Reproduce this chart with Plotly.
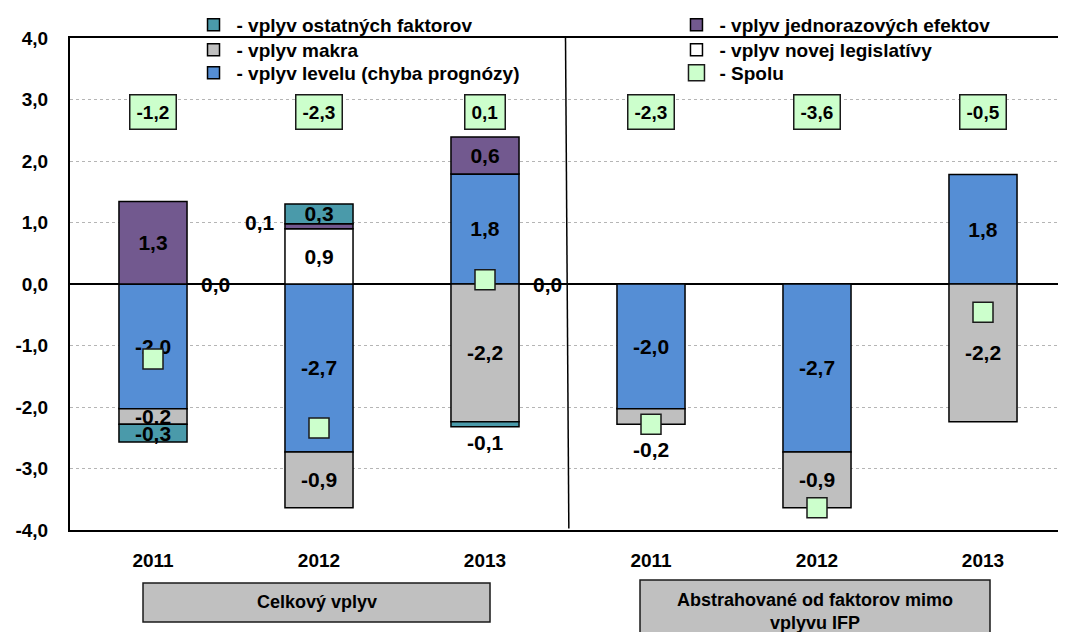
import plotly.graph_objects as go

# categories: two groups of three years
years = ["2011", "2012", "2013", "2011", "2012", "2013"]
groups = ["Celkový vplyv", "Abstrahované od faktorov mimo<br>vplyvu IFP"]

# series values (percent of GDP)
level = [-2.03, -2.73, 1.79, -2.03, -2.73, 1.78]
legislation = [0.0, 0.90, 0.0, None, None, None]
makro = [-0.25, -0.91, -2.24, -0.25, -0.91, -2.24]
jednoraz = [1.34, 0.08, 0.60, None, None, None]
ostatne = [-0.29, 0.32, -0.08, None, None, None]
spolu = [-1.22, -2.34, 0.07, -2.28, -3.64, -0.46]

y_ticks = [-4, -3, -2, -1, 0, 1, 2, 3, 4]
y_tick_labels = ["-4,0", "-3,0", "-2,0", "-1,0", "0,0", "1,0", "2,0", "3,0", "4,0"]

FONT = "Arial, Liberation Sans, sans-serif"

x = list(range(len(years)))


def fmt(v):
    if v is None:
        return ""
    return f"{v:.1f}".replace(".", ",")


label_font = dict(family=FONT, size=21, color="#000000", weight="bold")

series = [
    # name, values, color, legend, text positions
    ("- vplyv levelu (chyba prognózy)", level, "#558ed5", "legend3",
     ["inside"] * 6),
    ("- vplyv novej legislatívy", legislation, "#ffffff", "legend5",
     ["none", "inside", "none", "none", "none", "none"]),
    ("- vplyv makra", makro, "#bfbfbf", "legend2",
     ["inside", "inside", "inside", "below", "inside", "inside"]),
    ("- vplyv jednorazových efektov", jednoraz, "#72598f", "legend4",
     ["inside", "none", "inside", "none", "none", "none"]),
    ("- vplyv ostatných faktorov", ostatne, "#4a9aaa", "legend",
     ["inside", "inside", "below", "none", "none", "none"]),
]

fig = go.Figure()

for name, vals, color, leg, pos in series:
    fig.add_trace(go.Bar(
        x=x, y=vals, name=name, width=0.41,
        marker=dict(color=color, line=dict(color="#000000", width=1.5)),
        text=[fmt(v) if p == "inside" else "" for v, p in zip(vals, pos)],
        textposition="inside",
        insidetextanchor="middle",
        constraintext="none",
        textangle=0,
        textfont=label_font,
        legend=leg,
        hoverinfo="skip",
    ))

fig.add_trace(go.Scatter(
    x=x, y=spolu, name="- Spolu", mode="markers",
    marker=dict(symbol="square", size=20, color="#ccffcc",
                line=dict(color="#1a1a1a", width=1.5)),
    legend="legend6", hoverinfo="skip",
))

# labels placed under the bottom end of a negative stack
for name, vals, color, leg, pos in series:
    for i, p in enumerate(pos):
        if p != "below":
            continue
        bottom = sum(s[1][i] for s in series if s[1][i] is not None and s[1][i] < 0)
        fig.add_annotation(
            x=i, y=bottom, text=fmt(vals[i]), showarrow=False,
            yanchor="top", xanchor="center", yshift=-2 if i < 3 else -12,
            font=label_font,
        )

# total labels in green boxes
for i, v in enumerate(spolu):
    fig.add_annotation(
        x=i, y=2.8, text=fmt(v), showarrow=False,
        font=dict(family=FONT, size=19, color="#000000", weight="bold"),
        bgcolor="#ccffcc", bordercolor="#1a1a1a", borderwidth=1.5, borderpad=6,
    )

# zero-value labels of new legislation, shifted right of the bars
for i, v in enumerate(legislation):
    if v == 0.0:
        fig.add_annotation(
            x=i, y=0, text=fmt(v), showarrow=False, xshift=62,
            font=label_font,
        )

# small one-off label left of the 2012 bar
fig.add_annotation(
    x=1, y=legislation[1] + jednoraz[1] / 2, text=fmt(jednoraz[1]),
    showarrow=False, xshift=-59, yshift=4,
    font=label_font,
)

# divider between the two groups
fig.add_shape(type="line", x0=2.485, x1=2.505, xref="x", y0=1, y1=0.003,
              yref="paper", line=dict(color="#000000", width=1.5))

# group boxes under the axis
boxes = [(0.0733, 0.4217, -0.1077, -0.187), (0.5723, 0.9237, -0.1016, -0.25)]
label_y = [-0.147, -0.165]
for (x0, x1, y0, y1), label, ly in zip(boxes, groups, label_y):
    fig.add_shape(type="rect", xref="paper", yref="paper",
                  x0=x0, x1=x1, y0=y0, y1=y1,
                  fillcolor="#c0c0c0", line=dict(color="#1a1a1a", width=1.5))
    fig.add_annotation(
        x=(x0 + x1) / 2, y=ly, xanchor="center", yanchor="middle",
        xref="paper", yref="paper", text=label, showarrow=False,
        font=dict(family=FONT, size=18, color="#000000", weight="bold"),
    )

# one legend per entry so the two columns line up like the original
legend_style = dict(
    xanchor="left", yanchor="middle", bgcolor="rgba(0,0,0,0)",
    font=dict(family=FONT, size=19, color="#000000", weight="bold"),
    itemclick=False, itemwidth=36,
)
rows = [1.0264, 0.9756, 0.9289]
cols = [0.121, 0.6059]

# the page adds an 8px body margin, so the plot area is set 8px up/left
fig.update_layout(
    width=1066, height=632,
    margin=dict(l=62, r=8, t=30, b=110, autoexpand=False),
    paper_bgcolor="#ffffff", plot_bgcolor="#ffffff",
    barmode="relative",
    showlegend=True,
    legend=dict(x=cols[0], y=rows[0], **legend_style),
    legend2=dict(x=cols[0], y=rows[1], **legend_style),
    legend3=dict(x=cols[0], y=rows[2], **legend_style),
    legend4=dict(x=cols[1], y=rows[0], **legend_style),
    legend5=dict(x=cols[1], y=rows[1], **legend_style),
    legend6=dict(x=cols[1], y=rows[2], **legend_style),
    xaxis=dict(
        range=[-0.5, 5.5], tickvals=x, ticktext=years,
        showline=True, linecolor="#000000", linewidth=2, mirror=True,
        showgrid=False, zeroline=False, ticks="",
        ticklabelstandoff=12,
        tickfont=dict(family=FONT, size=19, color="#000000", weight="bold"),
    ),
    yaxis=dict(
        range=[-4, 4], tickvals=y_ticks, ticktext=y_tick_labels,
        showline=True, linecolor="#000000", linewidth=2,
        showgrid=True, gridcolor="#b5b5b5", gridwidth=1, griddash="dot",
        zeroline=True, zerolinecolor="#000000", zerolinewidth=2,
        ticks="", ticklabelstandoff=16,
        tickfont=dict(family=FONT, size=19, color="#000000", weight="bold"),
    ),
)

fig.write_html("out.html")
